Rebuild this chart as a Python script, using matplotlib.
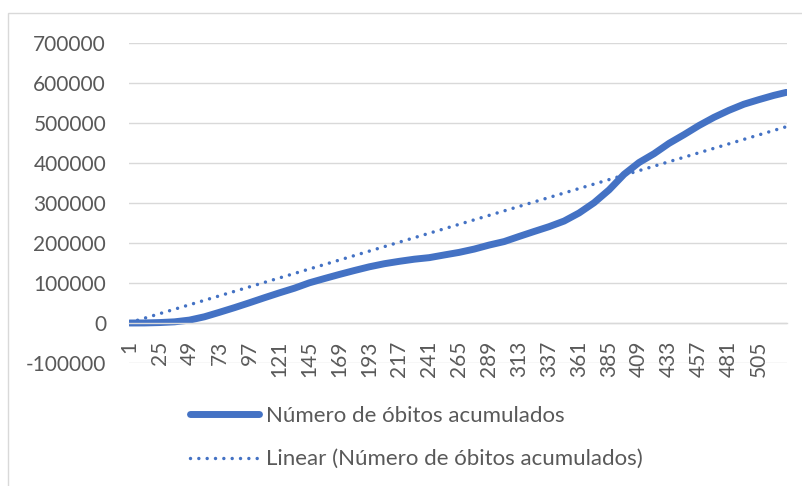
import numpy as np
import matplotlib
matplotlib.use("Agg")
import matplotlib.pyplot as plt
from matplotlib.patches import Rectangle

# dias (eixo de categorias) e óbitos acumulados
dias = [1, 13, 25, 37, 49, 61, 73, 85, 97, 109, 121, 133, 145, 157, 169, 181,
        193, 205, 217, 229, 241, 253, 265, 277, 289, 301, 313, 325, 337, 349,
        361, 373, 385, 397, 409, 421, 433, 445, 457, 469, 481, 493, 505, 517, 527]
obitos = [1, 140, 1100, 2900, 7300, 15600, 26800, 38400, 50600, 63200, 75400,
          87000, 100500, 111100, 121400, 131200, 140500, 148200, 154200, 159500,
          163400, 170100, 176600, 184800, 194900, 203600, 216400, 228800, 240900,
          254900, 275100, 300700, 332800, 371700, 401200, 423200, 449100, 470800,
          493700, 514100, 531700, 547000, 558400, 569100, 576600]
n_dias = 527
rotulos_x = list(range(1, n_dias, 24))
ticks_y = list(range(-100000, 700001, 100000))

serie = "Número de óbitos acumulados"
tendencia = "Linear (Número de óbitos acumulados)"

plt.rcParams['font.family'] = ['Lato', 'DejaVu Sans']
plt.rcParams['axes.unicode_minus'] = False
cinza = '#595959'
grade = '#d9d9d9'
azul = '#4472C4'
fs = 15

fig = plt.figure(figsize=(8.02, 4.86), dpi=100)
ax = fig.add_axes([129 / 802, 1 - 363 / 486, (787 - 129) / 802, (363 - 43) / 486])

# moldura da área do gráfico (sai da imagem à direita e embaixo)
fig.patches.append(Rectangle((8 / 802, -0.5), 2, 1 - 13 / 486 + 0.5,
                             transform=fig.transFigure, fill=False,
                             ec=grade, lw=1.0))

ax.plot(dias, obitos, color=azul, lw=5, solid_capstyle='round',
        solid_joinstyle='round', label=serie)

# linha de tendência linear com interseção fixada em 0 (como no Excel)
x = np.array(dias, dtype=float)
y = np.array(obitos, dtype=float)
a = (x * y).sum() / (x * x).sum()
xt = np.array([1, n_dias])
ax.plot(xt, a * xt, color=azul, lw=2.5, linestyle=(0, (0.001, 2.4)),
        dash_capstyle='round', label=tendencia)

ax.set_xlim(0.5, n_dias + 0.5)
ax.set_ylim(-100000, 700000)
ax.set_yticks(ticks_y)
ax.set_yticklabels([str(v) for v in ticks_y])
ax.set_xticks(rotulos_x)
ax.set_xticklabels([str(v) for v in rotulos_x])

ax.yaxis.grid(True, color=grade, lw=1.0)
ax.set_axisbelow(True)
for s in ['top', 'right', 'left']:
    ax.spines[s].set_visible(False)
ax.spines['bottom'].set_position(('data', 0))
ax.spines['bottom'].set_color(grade)
ax.spines['bottom'].set_linewidth(1.0)
ax.tick_params(axis='y', length=0, pad=16.5, labelsize=fs, labelcolor=cinza)
ax.tick_params(axis='x', length=0, pad=13, labelsize=fs, labelcolor=cinza,
               labelrotation=90)

leg = ax.legend(loc='upper left', bbox_to_anchor=(190 / 802, 1 - 406 / 486),
                bbox_transform=fig.transFigure, frameon=False, fontsize=16,
                handlelength=3.1, handletextpad=0.3, labelspacing=1.05,
                borderpad=0, borderaxespad=0)
for t in leg.get_texts():
    t.set_color(cinza)

fig.savefig('out.png', dpi=100)
